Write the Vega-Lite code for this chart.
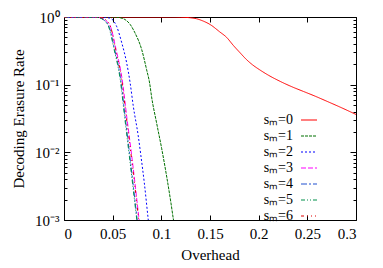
{
  "$schema": "https://vega.github.io/schema/vega-lite/v6.json",
  "width": 292,
  "height": 203,
  "autosize": {"type": "none"},
  "padding": {"left": 64, "top": 17, "right": 27, "bottom": 48},
  "config": {
    "view": {"stroke": "#000000", "strokeWidth": 1},
    "font": "Liberation Serif",
    "axis": {
      "domain": false,
      "grid": false,
      "tickColor": "#000000",
      "labelFont": "Liberation Serif",
      "labelFontSize": 15,
      "labelColor": "#000000",
      "titleFont": "Liberation Serif",
      "titleFontSize": 15,
      "titleFontWeight": "normal",
      "titleColor": "#000000"
    },
    "legend": {
      "orient": "none",
      "legendX": 236,
      "legendY": 94,
      "title": null,
      "labelFont": "Liberation Serif",
      "labelFontSize": 14,
      "labelColor": "#000000",
      "labelAlign": "right",
      "labelOffset": -25,
      "symbolType": "stroke",
      "symbolSize": 256,
      "symbolStrokeWidth": 1.2,
      "rowPadding": 0
    }
  },
  "data": {
    "values": [
      {"s": "sₘ=0", "x": 0, "y": 1}, {"s": "sₘ=0", "x": 0.11, "y": 1}, {"s": "sₘ=0", "x": 0.12, "y": 0.993}, {"s": "sₘ=0", "x": 0.129, "y": 0.977}, {"s": "sₘ=0", "x": 0.136, "y": 0.944}, {"s": "sₘ=0", "x": 0.143, "y": 0.871}, {"s": "sₘ=0", "x": 0.15, "y": 0.776}, {"s": "sₘ=0", "x": 0.16, "y": 0.603}, {"s": "sₘ=0", "x": 0.167, "y": 0.501}, {"s": "sₘ=0", "x": 0.174, "y": 0.38}, {"s": "sₘ=0", "x": 0.181, "y": 0.295}, {"s": "sₘ=0", "x": 0.1876, "y": 0.234}, {"s": "sₘ=0", "x": 0.194, "y": 0.195}, {"s": "sₘ=0", "x": 0.201, "y": 0.166}, {"s": "sₘ=0", "x": 0.21, "y": 0.138}, {"s": "sₘ=0", "x": 0.222, "y": 0.112}, {"s": "sₘ=0", "x": 0.234, "y": 0.0933}, {"s": "sₘ=0", "x": 0.246, "y": 0.0794}, {"s": "sₘ=0", "x": 0.258, "y": 0.0676}, {"s": "sₘ=0", "x": 0.27, "y": 0.0569}, {"s": "sₘ=0", "x": 0.285, "y": 0.0457}, {"s": "sₘ=0", "x": 0.3, "y": 0.0363},

      {"s": "sₘ=1", "x": 0, "y": 1}, {"s": "sₘ=1", "x": 0.05, "y": 1}, {"s": "sₘ=1", "x": 0.054, "y": 0.993}, {"s": "sₘ=1", "x": 0.058, "y": 0.972}, {"s": "sₘ=1", "x": 0.0626, "y": 0.918}, {"s": "sₘ=1", "x": 0.068, "y": 0.776}, {"s": "sₘ=1", "x": 0.0729, "y": 0.583}, {"s": "sₘ=1", "x": 0.0798, "y": 0.331}, {"s": "sₘ=1", "x": 0.0849, "y": 0.166}, {"s": "sₘ=1", "x": 0.088, "y": 0.105}, {"s": "sₘ=1", "x": 0.09, "y": 0.0661}, {"s": "sₘ=1", "x": 0.0952, "y": 0.0269}, {"s": "sₘ=1", "x": 0.1003, "y": 0.0115}, {"s": "sₘ=1", "x": 0.1054, "y": 0.00447}, {"s": "sₘ=1", "x": 0.1099, "y": 0.00178}, {"s": "sₘ=1", "x": 0.1125, "y": 0.001}, {"s": "sₘ=1", "x": 0.115, "y": 0.000631},

      {"s": "sₘ=2", "x": 0, "y": 1}, {"s": "sₘ=2", "x": 0.04, "y": 1}, {"s": "sₘ=2", "x": 0.045, "y": 0.977}, {"s": "sₘ=2", "x": 0.049, "y": 0.933}, {"s": "sₘ=2", "x": 0.054, "y": 0.731}, {"s": "sₘ=2", "x": 0.0593, "y": 0.417}, {"s": "sₘ=2", "x": 0.0644, "y": 0.209}, {"s": "sₘ=2", "x": 0.068, "y": 0.105}, {"s": "sₘ=2", "x": 0.0712, "y": 0.0479}, {"s": "sₘ=2", "x": 0.0763, "y": 0.0174}, {"s": "sₘ=2", "x": 0.079, "y": 0.00891}, {"s": "sₘ=2", "x": 0.0825, "y": 0.00355}, {"s": "sₘ=2", "x": 0.0866, "y": 0.001}, {"s": "sₘ=2", "x": 0.089, "y": 0.000501},

      {"s": "sₘ=3", "x": 0, "y": 1}, {"s": "sₘ=3", "x": 0.033, "y": 1}, {"s": "sₘ=3", "x": 0.038, "y": 0.977}, {"s": "sₘ=3", "x": 0.043, "y": 0.891}, {"s": "sₘ=3", "x": 0.048, "y": 0.708}, {"s": "sₘ=3", "x": 0.0535, "y": 0.331}, {"s": "sₘ=3", "x": 0.0595, "y": 0.126}, {"s": "sₘ=3", "x": 0.0647, "y": 0.0316}, {"s": "sₘ=3", "x": 0.07, "y": 0.00794}, {"s": "sₘ=3", "x": 0.0772, "y": 0.001}, {"s": "sₘ=3", "x": 0.08, "y": 0.000447},

      {"s": "sₘ=4", "x": 0, "y": 1}, {"s": "sₘ=4", "x": 0.031, "y": 1}, {"s": "sₘ=4", "x": 0.0365, "y": 0.977}, {"s": "sₘ=4", "x": 0.0415, "y": 0.891}, {"s": "sₘ=4", "x": 0.0465, "y": 0.708}, {"s": "sₘ=4", "x": 0.052, "y": 0.331}, {"s": "sₘ=4", "x": 0.058, "y": 0.126}, {"s": "sₘ=4", "x": 0.063, "y": 0.0316}, {"s": "sₘ=4", "x": 0.068, "y": 0.00794}, {"s": "sₘ=4", "x": 0.0752, "y": 0.001}, {"s": "sₘ=4", "x": 0.078, "y": 0.000447},

      {"s": "sₘ=5", "x": 0, "y": 1}, {"s": "sₘ=5", "x": 0.03, "y": 1}, {"s": "sₘ=5", "x": 0.036, "y": 0.977}, {"s": "sₘ=5", "x": 0.041, "y": 0.891}, {"s": "sₘ=5", "x": 0.046, "y": 0.708}, {"s": "sₘ=5", "x": 0.0515, "y": 0.331}, {"s": "sₘ=5", "x": 0.0575, "y": 0.126}, {"s": "sₘ=5", "x": 0.0625, "y": 0.0316}, {"s": "sₘ=5", "x": 0.0675, "y": 0.00794}, {"s": "sₘ=5", "x": 0.0748, "y": 0.001}, {"s": "sₘ=5", "x": 0.078, "y": 0.000398},

      {"s": "sₘ=6", "x": 0, "y": 1}, {"s": "sₘ=6", "x": 0.034, "y": 1}, {"s": "sₘ=6", "x": 0.0385, "y": 0.977}, {"s": "sₘ=6", "x": 0.0435, "y": 0.891}, {"s": "sₘ=6", "x": 0.048, "y": 0.708}, {"s": "sₘ=6", "x": 0.053, "y": 0.331}, {"s": "sₘ=6", "x": 0.059, "y": 0.126}, {"s": "sₘ=6", "x": 0.0642, "y": 0.0316}, {"s": "sₘ=6", "x": 0.0695, "y": 0.00794}, {"s": "sₘ=6", "x": 0.0768, "y": 0.001}, {"s": "sₘ=6", "x": 0.08, "y": 0.000398}
    ]
  },
  "layer": [
    {
      "mark": {"type": "line", "clip": true, "strokeWidth": 1, "interpolate": "monotone"},
      "encoding": {
        "x": {"field": "x", "type": "quantitative", "scale": {"domain": [0, 0.3], "nice": false},
          "axis": {"orient": "bottom", "values": [0, 0.05, 0.1, 0.15, 0.2, 0.25, 0.3], "format": "~g", "tickSize": -5, "labelPadding": 11, "title": "Overhead", "titlePadding": 6}},
        "y": {"field": "y", "type": "quantitative", "scale": {"type": "log", "domain": [0.001, 1], "nice": false},
          "axis": {"orient": "left", "values": [0.001, 0.01, 0.1, 1], "tickSize": -6, "labelPadding": 11,
            "labelExpr": "datum.value >= 0.9 ? '10⁰' : datum.value >= 0.09 ? '10⁻¹' : datum.value >= 0.009 ? '10⁻²' : '10⁻³'",
            "title": "Decoding Erasure Rate", "titlePadding": 8}},
        "color": {"field": "s", "type": "nominal",
          "scale": {"domain": ["sₘ=0", "sₘ=1", "sₘ=2", "sₘ=3", "sₘ=4", "sₘ=5", "sₘ=6"],
            "range": ["#ff0000", "#007000", "#0000ff", "#ff00ff", "#2050d0", "#00904a", "#e00000"]}},
        "strokeDash": {"field": "s", "type": "nominal",
          "scale": {"domain": ["sₘ=0", "sₘ=1", "sₘ=2", "sₘ=3", "sₘ=4", "sₘ=5", "sₘ=6"],
            "range": [[1, 0], [3, 1], [2, 2], [5, 2], [6, 2, 2, 2], [4, 2, 1, 2, 1, 2], [3, 3, 1, 3, 1, 3, 1, 3]]}}
      }
    },
    {
      "mark": {"type": "point", "opacity": 0},
      "encoding": {
        "x": {"field": "x", "type": "quantitative", "axis": {"orient": "top", "values": [0, 0.05, 0.1, 0.15, 0.2, 0.25, 0.3], "labels": false, "tickSize": -5, "title": null}},
        "y": {"field": "y", "type": "quantitative", "axis": {"orient": "right", "values": [0.001, 0.01, 0.1, 1], "labels": false, "tickSize": -6, "title": null}}
      }
    },
    {
      "mark": {"type": "point", "opacity": 0},
      "encoding": {
        "x": {"field": "x", "type": "quantitative", "axis": null},
        "y": {"field": "y", "type": "quantitative", "axis": {"orient": "left", "values": [0.002, 0.003, 0.004, 0.005, 0.006, 0.007, 0.008, 0.009, 0.02, 0.03, 0.04, 0.05, 0.06, 0.07, 0.08, 0.09, 0.2, 0.3, 0.4, 0.5, 0.6, 0.7, 0.8, 0.9], "labels": false, "tickSize": -3, "title": null}}
      }
    },
    {
      "mark": {"type": "point", "opacity": 0},
      "encoding": {
        "x": {"field": "x", "type": "quantitative", "axis": null},
        "y": {"field": "y", "type": "quantitative", "axis": {"orient": "right", "values": [0.002, 0.003, 0.004, 0.005, 0.006, 0.007, 0.008, 0.009, 0.02, 0.03, 0.04, 0.05, 0.06, 0.07, 0.08, 0.09, 0.2, 0.3, 0.4, 0.5, 0.6, 0.7, 0.8, 0.9], "labels": false, "tickSize": -3, "title": null}}
      }
    }
  ],
  "resolve": {"axis": {"x": "independent", "y": "independent"}}
}
